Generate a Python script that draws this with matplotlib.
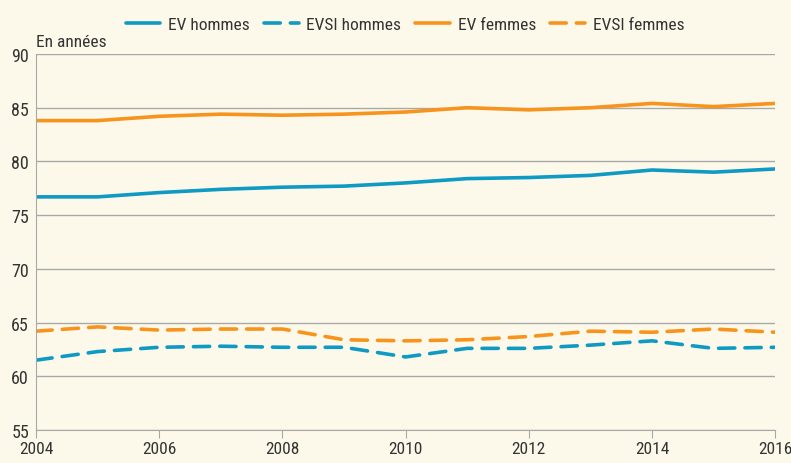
import matplotlib.pyplot as plt

years = [2004, 2005, 2006, 2007, 2008, 2009, 2010, 2011, 2012, 2013, 2014, 2015, 2016]
ev_hommes = [76.7, 76.7, 77.1, 77.4, 77.6, 77.7, 78.0, 78.4, 78.5, 78.7, 79.2, 79.0, 79.3]
evsi_hommes = [61.5, 62.3, 62.7, 62.8, 62.7, 62.7, 61.8, 62.6, 62.6, 62.9, 63.3, 62.6, 62.7]
ev_femmes = [83.8, 83.8, 84.2, 84.4, 84.3, 84.4, 84.6, 85.0, 84.8, 85.0, 85.4, 85.1, 85.4]
evsi_femmes = [64.2, 64.6, 64.3, 64.4, 64.4, 63.4, 63.3, 63.4, 63.7, 64.2, 64.1, 64.4, 64.1]

xticks = [2004, 2006, 2008, 2010, 2012, 2014, 2016]
yticks = [55, 60, 65, 70, 75, 80, 85, 90]

plt.rcParams['font.family'] = ['Roboto Condensed', 'DejaVu Sans']

bg = '#fdf9ea'
blue = '#0f9ac3'
orange = '#f7941d'
grey = '#a8a8a8'
txt = '#333333'

fig = plt.figure(figsize=(7.91, 4.64), dpi=100, facecolor=bg)
ax = fig.add_axes([0.0455, 0.0711, 0.9345, 0.8104], facecolor=bg)

dash = (0, (4.5, 2.8))
lw = 2.6
ax.plot(years, ev_hommes, color=blue, lw=lw, solid_capstyle='round', label='EV hommes')
ax.plot(years, evsi_hommes, color=blue, lw=lw, ls=dash, dash_capstyle='round', label='EVSI hommes')
ax.plot(years, ev_femmes, color=orange, lw=lw, solid_capstyle='round', label='EV femmes')
ax.plot(years, evsi_femmes, color=orange, lw=lw, ls=dash, dash_capstyle='round', label='EVSI femmes')

ax.set_xlim(2004, 2016)
ax.set_ylim(55, 90)
ax.set_xticks(xticks)
ax.set_yticks(yticks)
for y in yticks:
    ax.axhline(y, color=grey, lw=1, zorder=0)

for s in ['top', 'right']:
    ax.spines[s].set_visible(False)
ax.spines['left'].set_color(grey)
ax.spines['bottom'].set_color(grey)
ax.tick_params(axis='y', length=0, labelsize=13, labelcolor=txt, pad=5)
ax.tick_params(axis='x', length=6, color=grey, labelsize=12.5, labelcolor=txt, pad=2)

fig.text(0.0455, 0.893, 'En années', fontsize=12.5, color=txt, ha='left', va='bottom')

fig.legend(loc='upper center', bbox_to_anchor=(0.512, 0.995), ncol=4, frameon=False,
           fontsize=12.5, handlelength=2.0, columnspacing=0.8, handletextpad=0.45,
           labelcolor=txt)

fig.savefig('out.png', dpi=100, facecolor=bg)
